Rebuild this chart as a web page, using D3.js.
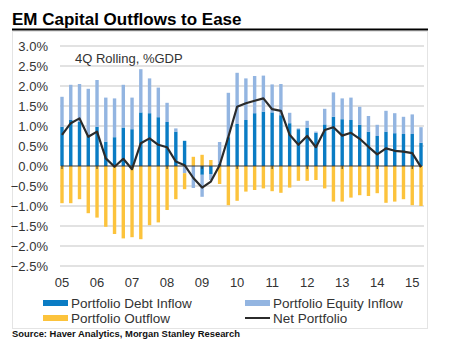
<!DOCTYPE html>
<html>
<head>
<meta charset="utf-8">
<script src="https://cdn.jsdelivr.net/npm/d3@7"></script>
<style>
  html, body { margin: 0; padding: 0; background: #fff; }
  body { width: 456px; height: 351px; overflow: hidden; }
  svg { display: block; font-family: "Liberation Sans", Arial, sans-serif; }
</style>
</head>
<body>
<div id="chart"></div>
<script>
// Quarterly data, 2005Q1 .. 2015Q2, % of GDP (4Q rolling)
const quarters = d3.range(42).map(i => `${2005 + Math.floor(i / 4)}Q${(i % 4) + 1}`);
const yearLabels = ['05', '06', '07', '08', '09', '10', '11', '12', '13', '14', '15'];
const yTicks = [3.0, 2.5, 2.0, 1.5, 1.0, 0.5, 0.0, -0.5, -1.0, -1.5, -2.0, -2.5];

const debtInflow = [0.98, 1.15, 1.10, 0.75, 0.98, 0.61, 0.72, 0.96, 0.92, 1.34,
  1.32, 1.22, 1.10, 0.86, 0.63, 0.00, -0.22, -0.20, 0.05, 0.72,
  1.05, 1.15, 1.32, 1.36, 1.34, 1.27, 1.07, 0.92, 0.96, 0.83,
  1.04, 1.23, 1.17, 1.15, 1.03, 0.86, 0.75, 0.86, 0.82, 0.80,
  0.80, 0.58];
const equityInflow = [0.75, 0.88, 0.95, 1.18, 1.17, 1.10, 0.97, 1.07, 0.79, 1.08,
  0.87, 0.74, 0.48, 0.08, -0.18, -0.55, -0.55, -0.15, 0.55, 1.11,
  1.28, 1.04, 0.93, 0.90, 0.70, 0.78, 0.26, 0.02, 0.17, 0.03,
  0.39, 0.61, 0.52, 0.56, 0.45, 0.39, 0.28, 0.52, 0.50, 0.43,
  0.49, 0.39];
const outflow = [-0.93, -0.93, -0.83, -1.18, -1.29, -1.52, -1.70, -1.81, -1.78, -1.83,
  -1.48, -1.41, -1.10, -0.83, -0.40, 0.23, 0.28, 0.15, -0.45, -0.98,
  -0.87, -0.64, -0.60, -0.56, -0.63, -0.67, -0.54, -0.37, -0.37, -0.35,
  -0.56, -0.89, -0.89, -0.79, -0.73, -0.75, -0.68, -0.92, -0.89, -0.83,
  -0.98, -1.00];
const netPortfolio = [0.78, 1.07, 1.19, 0.73, 0.86, 0.19, -0.02, 0.18, -0.08, 0.57,
  0.69, 0.53, 0.47, 0.11, 0.02, -0.30, -0.54, -0.39, 0.02, 0.73,
  1.48, 1.57, 1.63, 1.69, 1.42, 1.38, 0.78, 0.53, 0.75, 0.47,
  0.90, 0.97, 0.76, 0.83, 0.68, 0.48, 0.29, 0.44, 0.38, 0.36,
  0.32, -0.03];

const seriesKeys = ['debt', 'equity', 'outflow'];
const colors = { debt: '#0a7cc4', equity: '#93b5e1', outflow: '#fcc33c', net: '#2b2b2b' };

const rows = quarters.map((q, i) => ({
  q, debt: debtInflow[i], equity: equityInflow[i], outflow: outflow[i]
}));

const W = 456, H = 351;
const svg = d3.select('#chart').append('svg').attr('width', W).attr('height', H);

// Title + rule
svg.append('text')
  .attr('x', 12).attr('y', 25)
  .attr('font-size', 17).attr('font-weight', 'bold').attr('fill', '#000')
  .text('EM Capital Outflows to Ease');
svg.append('line')
  .attr('x1', 12).attr('x2', 428).attr('y1', 29.5).attr('y2', 29.5)
  .attr('stroke', '#000').attr('stroke-width', 2);

// Chart frame
svg.append('rect')
  .attr('x', 12.5).attr('y', 31.5).attr('width', 415).attr('height', 297)
  .attr('fill', 'none').attr('stroke', '#e4e4e4');

// Scales
const x = d3.scaleLinear().domain([0, quarters.length - 1]).range([62, 421]);
const y = d3.scaleLinear().domain([-2.5, 3]).range([266, 46]);
const barW = 3.4;

// Gridlines
svg.append('g').selectAll('line')
  .data(yTicks.filter(d => d !== 0))
  .join('line')
  .attr('x1', 60).attr('x2', 424)
  .attr('y1', d => y(d)).attr('y2', d => y(d))
  .attr('stroke', '#d9d9d9').attr('stroke-width', 1.5);

// Y axis labels
const fmt = d3.format('.1f');
svg.append('g').selectAll('text')
  .data(yTicks)
  .join('text')
  .attr('x', 48).attr('y', d => y(d))
  .attr('dy', '0.36em')
  .attr('text-anchor', 'end')
  .attr('font-size', 13).attr('fill', '#333')
  .text(d => fmt(d) + '%');

// Stacked bars (diverging)
const stack = d3.stack().keys(seriesKeys).offset(d3.stackOffsetDiverging);
const stacked = stack(rows);
svg.append('g').selectAll('g')
  .data(stacked)
  .join('g')
  .attr('fill', d => colors[d.key])
  .selectAll('rect')
  .data(d => d)
  .join('rect')
  .attr('x', (d, i) => x(i) - barW / 2)
  .attr('width', barW)
  .attr('y', d => y(Math.max(d[0], d[1])))
  .attr('height', d => Math.abs(y(d[0]) - y(d[1])));

// Zero axis line with year ticks
svg.append('line')
  .attr('x1', 61).attr('x2', 422).attr('y1', y(0)).attr('y2', y(0))
  .attr('stroke', '#3a3a3a').attr('stroke-width', 1);
svg.append('g').selectAll('line')
  .data(yearLabels)
  .join('line')
  .attr('x1', (d, i) => x(i * 4)).attr('x2', (d, i) => x(i * 4))
  .attr('y1', y(0)).attr('y2', y(0) + 3)
  .attr('stroke', '#3a3a3a').attr('stroke-width', 1);

// Net portfolio line
svg.append('path')
  .datum(netPortfolio)
  .attr('fill', 'none')
  .attr('stroke', colors.net)
  .attr('stroke-width', 2.2)
  .attr('stroke-linejoin', 'round')
  .attr('d', d3.line().x((d, i) => x(i)).y(d => y(d)));

// X labels
svg.append('g').selectAll('text')
  .data(yearLabels)
  .join('text')
  .attr('x', (d, i) => x(i * 4)).attr('y', 287)
  .attr('text-anchor', 'middle')
  .attr('font-size', 13).attr('fill', '#333')
  .text(d => d);

// Subtitle inside plot
svg.append('text')
  .attr('x', 75).attr('y', 63)
  .attr('font-size', 13).attr('fill', '#333')
  .text('4Q Rolling, %GDP');

// Legend
const legend = [
  { label: 'Portfolio Debt Inflow', key: 'debt', type: 'bar', x: 43, y: 303 },
  { label: 'Portfolio Equity Inflow', key: 'equity', type: 'bar', x: 245, y: 303 },
  { label: 'Portfolio Outflow', key: 'outflow', type: 'bar', x: 43, y: 318 },
  { label: 'Net Portfolio', key: 'net', type: 'line', x: 245, y: 318 }
];
const lg = svg.append('g').selectAll('g').data(legend).join('g')
  .attr('transform', d => `translate(${d.x},${d.y})`);
lg.filter(d => d.type === 'bar').append('rect')
  .attr('x', 0).attr('y', -3).attr('width', 25).attr('height', 6)
  .attr('fill', d => colors[d.key]);
lg.filter(d => d.type === 'line').append('line')
  .attr('x1', 0).attr('x2', 25).attr('y1', 0).attr('y2', 0)
  .attr('stroke', colors.net).attr('stroke-width', 2);
lg.append('text')
  .attr('x', 28).attr('y', 0).attr('dy', '0.36em')
  .attr('font-size', 13.5).attr('fill', '#333')
  .text(d => d.label);

// Source
svg.append('text')
  .attr('x', 12).attr('y', 337)
  .attr('font-size', 9.5).attr('font-weight', 'bold').attr('fill', '#111')
  .attr('textLength', 228).attr('lengthAdjust', 'spacingAndGlyphs')
  .text('Source: Haver Analytics, Morgan Stanley Research');
</script>
</body>
</html>
